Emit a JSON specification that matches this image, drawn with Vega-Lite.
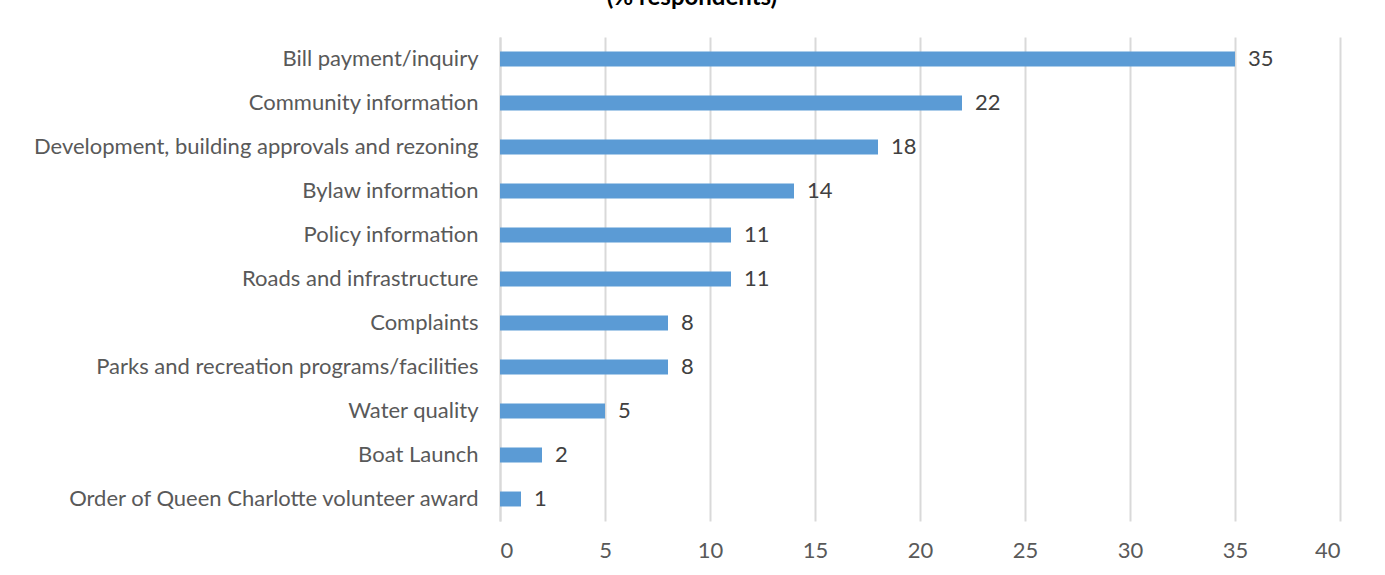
{
  "$schema": "https://vega.github.io/schema/vega-lite/v6.json",
  "autosize": {"type": "none"},
  "width": 840,
  "height": 484,
  "padding": {"left": 500, "top": 37, "right": 45, "bottom": 54},
  "background": "white",
  "title": {
    "text": "(% respondents)",
    "font": "Lato",
    "fontSize": 24,
    "fontWeight": "bold",
    "color": "#000000",
    "anchor": "middle",
    "dx": -228,
    "offset": 3,
    "baseline": "bottom"
  },
  "data": {
    "values": [
      {"category": "Bill payment/inquiry", "value": 35},
      {"category": "Community information", "value": 22},
      {"category": "Development, building approvals and rezoning", "value": 18},
      {"category": "Bylaw information", "value": 14},
      {"category": "Policy information", "value": 11},
      {"category": "Roads and infrastructure", "value": 11},
      {"category": "Complaints", "value": 8},
      {"category": "Parks and recreation programs/facilities", "value": 8},
      {"category": "Water quality", "value": 5},
      {"category": "Boat Launch", "value": 2},
      {"category": "Order of Queen Charlotte volunteer award", "value": 1}
    ]
  },
  "encoding": {
    "y": {
      "field": "category",
      "type": "nominal",
      "sort": null,
      "scale": {"paddingInner": 0.66, "paddingOuter": 0.33},
      "axis": {
        "title": null,
        "ticks": false,
        "labelPadding": 22,
        "labelFont": "Lato",
        "labelFontSize": 22,
        "labelColor": "#595959",
        "labelLimit": 600,
        "domainColor": "#d9d9d9",
        "domainWidth": 2,
        "grid": false
      }
    },
    "x": {
      "field": "value",
      "type": "quantitative",
      "scale": {"domain": [0, 40], "nice": false},
      "axis": {
        "title": null,
        "values": [0, 5, 10, 15, 20, 25, 30, 35, 40],
        "ticks": false,
        "domain": false,
        "grid": true,
        "gridColor": "#d9d9d9",
        "gridWidth": 2,
        "labelPadding": 19,
        "labelFont": "Lato",
        "labelFontSize": 22,
        "labelColor": "#595959"
      }
    }
  },
  "layer": [
    {"mark": {"type": "bar", "color": "#5b9bd5"}},
    {
      "mark": {"type": "text", "align": "left", "baseline": "middle", "dx": 13, "font": "Lato", "fontSize": 22, "color": "#404040"},
      "encoding": {"text": {"field": "value", "type": "quantitative"}}
    }
  ],
  "config": {"view": {"stroke": null}}
}
